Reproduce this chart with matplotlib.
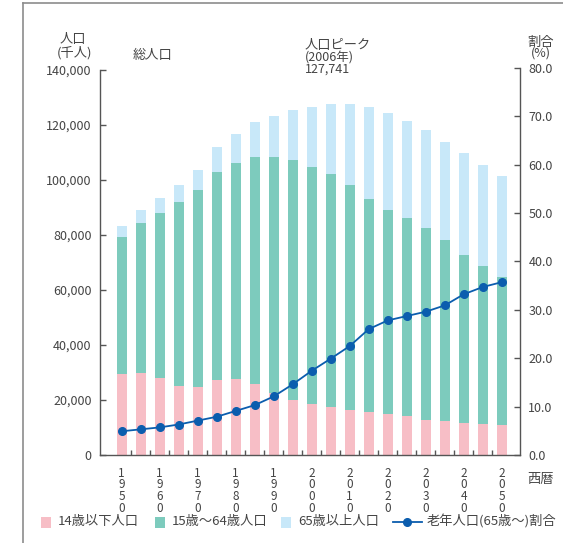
import numpy as np
import matplotlib
matplotlib.use("Agg")
import matplotlib.pyplot as plt
from matplotlib.patches import Rectangle
from matplotlib.lines import Line2D
from matplotlib.ticker import FuncFormatter

plt.rcParams['font.family'] = ['Noto Sans CJK JP', 'DejaVu Sans']

# データ（千人, %）
years = [1950, 1955, 1960, 1965, 1970, 1975, 1980, 1985, 1990, 1995, 2000,
         2005, 2010, 2015, 2020, 2025, 2030, 2035, 2040, 2045, 2050]
young = [29400, 29800, 28100, 25200, 24800, 27200, 27500, 26000, 22500, 20000, 18500,
         17500, 16400, 15600, 14800, 14100, 12700, 12300, 11600, 11400, 10800]
working = [49700, 54700, 60000, 66900, 71600, 75800, 78800, 82500, 85900, 87200, 86200,
           84800, 81700, 77500, 74300, 72100, 69800, 65900, 61100, 57300, 53900]
elderly = [4100, 4700, 5400, 6200, 7300, 8900, 10600, 12500, 14900, 18300, 22000,
           25400, 29400, 33300, 35300, 35300, 35700, 35600, 37100, 36800, 36800]
ratio = [4.9, 5.3, 5.7, 6.3, 7.1, 7.9, 9.1, 10.3, 12.1, 14.6, 17.4,
         19.9, 22.5, 26.0, 27.8, 28.7, 29.6, 30.9, 33.2, 34.7, 35.7]
decades = [1950, 1960, 1970, 1980, 1990, 2000, 2010, 2020, 2030, 2040, 2050]

c_young = '#f7bec6'
c_work = '#7dcbbd'
c_old = '#c8e8f9'
c_line = '#0b5dae'
c_text = '#444444'
c_axis = '#555555'

W, H = 563, 543
fig = plt.figure(figsize=(W / 100, H / 100), dpi=100)


def px(x, y):
    return x / W, 1 - y / H


ax = fig.add_axes([100 / W, 1 - 455 / H, 420 / W, (455 - 67.7) / H])
ax2 = ax.twinx()

x = np.array(years)
w = 2.63
ax.bar(x, young, width=w, color=c_young, linewidth=0)
ax.bar(x, working, width=w, bottom=young, color=c_work, linewidth=0)
ax.bar(x, elderly, width=w, bottom=np.array(young) + np.array(working), color=c_old, linewidth=0)

ax2.plot(x, ratio, color=c_line, lw=1.3, marker='o', ms=5.5, zorder=5)

ax.set_xlim(1944.3, 2054.8)
ax.set_ylim(0, 140000 * 387.3 / 385)
ax2.set_ylim(0, 80)

# 軸
for s in ['top', 'right']:
    ax.spines[s].set_visible(False)
for s in ['top', 'left', 'bottom']:
    ax2.spines[s].set_visible(False)
ax.spines['left'].set_bounds(0, 140000)
ax2.spines['right'].set_bounds(0, 80)
for sp in [ax.spines['left'], ax.spines['bottom'], ax2.spines['right']]:
    sp.set_color(c_axis)
    sp.set_linewidth(1.0)

ax.set_yticks(range(0, 140001, 20000))
ax.yaxis.set_major_formatter(FuncFormatter(lambda v, p: f'{int(v):,}'))
ax.tick_params(axis='y', direction='in', length=4, width=1, color=c_axis,
               labelsize=9, labelcolor=c_text, pad=6)

ax2.set_yticks(range(0, 81, 10))
ax2.yaxis.set_major_formatter(FuncFormatter(lambda v, p: f'{v:.1f}'))
ax2.tick_params(axis='y', direction='in', length=4, width=1, color=c_axis,
                labelsize=9, labelcolor=c_text, pad=6)

ax.set_xticks(decades, labels=['\n'.join(str(d)) for d in decades])
ax.set_xticks([y + 2.5 for y in years[:-1]], minor=True)
ax.tick_params(axis='x', which='major', length=0, labelsize=8.5, labelcolor=c_text, pad=8.5)
ax.tick_params(axis='x', which='minor', direction='in', length=3.5, width=1, color=c_axis)
for lab in ax.get_xticklabels():
    lab.set_linespacing(0.86)

# 文字
tk = dict(color=c_text, fontsize=9.5)
fig.text(*px(73, 40), '人口', ha='center', va='center', **tk)
fig.text(*px(74, 53), '(千人)', ha='center', va='center', **tk)
fig.text(*px(153, 55), '総人口', ha='center', va='center', **tk)
fig.text(*px(305, 45), '人口ピーク', ha='left', va='center', **tk)
fig.text(*px(305, 58), '(2006年)', ha='left', va='center', color=c_text, fontsize=9)
fig.text(*px(305, 69), '127,741', ha='left', va='center', color=c_text, fontsize=9)
fig.text(*px(541, 42), '割合', ha='center', va='center', **tk)
fig.text(*px(541, 53), '(%)', ha='center', va='center', color=c_text, fontsize=9)
fig.text(*px(540, 480), '西暦', ha='center', va='center', **tk)

# 外枠
fig.add_artist(Line2D([23 / W, 23 / W], [1 - 3 / H, 0], transform=fig.transFigure,
                      color='#8c8c8c', lw=1.2))
fig.add_artist(Line2D([23 / W, 1], [1 - 3 / H, 1 - 3 / H], transform=fig.transFigure,
                      color='#8c8c8c', lw=1.2))

# 凡例
ly = 522
for x0, col, lab in [(41, c_young, '14歳以下人口'), (155, c_work, '15歳～64歳人口'),
                     (281, c_old, '65歳以上人口')]:
    fig.add_artist(Rectangle(px(x0, ly + 5.5), 10 / W, 11 / H, transform=fig.transFigure,
                             color=col, lw=0))
    fig.text(*px(x0 + 17, ly), lab, ha='left', va='center', **tk)
fig.add_artist(Line2D([393 / W, 422 / W], [1 - ly / H] * 2, transform=fig.transFigure,
                      color=c_line, lw=1.3))
fig.add_artist(Line2D([407 / W], [1 - ly / H], transform=fig.transFigure,
                      color=c_line, marker='o', ms=5.5))
fig.text(*px(427, ly), '老年人口(65歳～)割合', ha='left', va='center', **tk)

fig.savefig('out.png', dpi=100)
